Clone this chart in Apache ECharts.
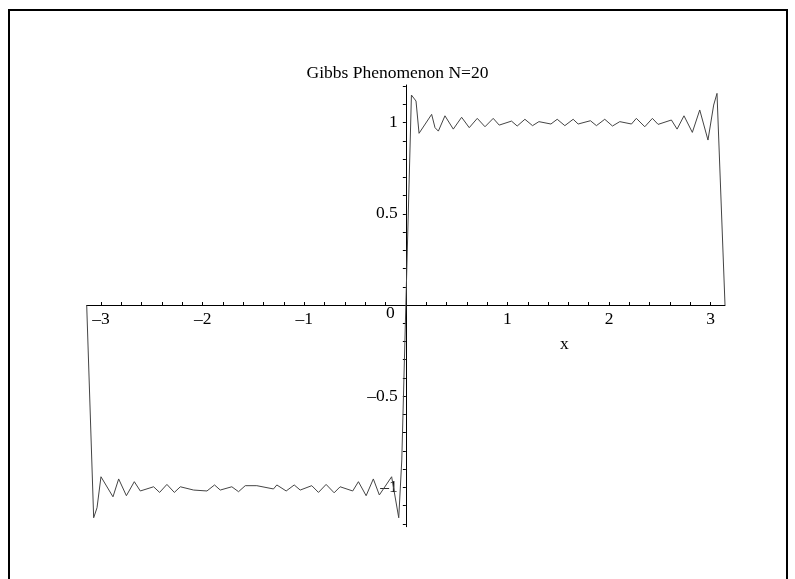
<!DOCTYPE html>
<html>
<head>
<meta charset="utf-8">
<script src="https://cdn.jsdelivr.net/npm/echarts@6/dist/echarts.min.js"></script>
<style>html,body{margin:0;padding:0;background:#fff}#c{width:795px;height:579px}</style>
</head>
<body>
<div id="c"></div>
<script>
var titleText = 'Gibbs Phenomenon N=20';
var xName = 'x';
var xValues = [
 -3.1416, -3.073, -3.040, -3.001, -2.883, -2.827, -2.751, -2.673, -2.614, -2.483,
 -2.424, -2.352, -2.279, -2.220, -2.089, -1.958, -1.883, -1.827, -1.713, -1.647,
 -1.581, -1.467, -1.303, -1.270, -1.178, -1.099, -1.040, -0.926, -0.860, -0.785,
 -0.706, -0.647, -0.523, -0.467, -0.391, -0.320, -0.261, -0.140, -0.070, -0.040,
 0, 0.055, 0.100, 0.130, 0.254, 0.287, 0.320, 0.385, 0.467, 0.549,
 0.624, 0.703, 0.779, 0.860, 0.919, 1.040, 1.096, 1.172, 1.247, 1.310,
 1.428, 1.490, 1.565, 1.647, 1.696, 1.817, 1.876, 1.958, 2.034, 2.106,
 2.221, 2.269, 2.352, 2.427, 2.483, 2.614, 2.670, 2.738, 2.820, 2.893,
 2.974, 3.030, 3.063, 3.1416
];
var yValues = [
 0, -1.167, -1.112, -0.942, -1.052, -0.954, -1.046, -0.969, -1.020, -0.997,
 -1.028, -0.984, -1.028, -0.997, -1.015, -1.020, -0.987, -1.015, -0.997, -1.024,
 -0.991, -0.991, -1.009, -0.987, -1.020, -0.987, -1.015, -0.991, -1.028, -0.984,
 -1.030, -0.997, -1.020, -0.969, -1.046, -0.954, -1.042, -0.942, -1.167, -0.850,
 0, 1.152, 1.119, 0.942, 1.046, 0.973, 0.954, 1.038, 0.965, 1.030,
 0.973, 1.024, 0.978, 1.024, 0.987, 1.009, 0.982, 1.019, 0.984, 1.006,
 0.993, 1.019, 0.984, 1.019, 0.993, 1.011, 0.984, 1.019, 0.982, 1.006,
 0.993, 1.024, 0.978, 1.024, 0.991, 1.015, 0.965, 1.038, 0.947, 1.070,
 0.905, 1.097, 1.161, 0
];
var xTickValues = [-3,-2.8,-2.6,-2.4,-2.2,-2,-1.8,-1.6,-1.4,-1.2,-1,-0.8,-0.6,-0.4,-0.2,0,
 0.2,0.4,0.6,0.8,1,1.2,1.4,1.6,1.8,2,2.2,2.4,2.6,2.8,3];
var xLabelValues = [-3,-2,-1,1,2,3];
var yTickValues = [-1.2,-1.1,-1,-0.9,-0.8,-0.7,-0.6,-0.5,-0.4,-0.3,-0.2,-0.1,0,
 0.1,0.2,0.3,0.4,0.5,0.6,0.7,0.8,0.9,1,1.1,1.2];
var yLabelValues = [-1,-0.5,0,0.5,1];

var X_MIN = -3.1416, X_MAX = 3.1416, Y_MIN = -1.216, Y_MAX = 1.207;
var G_LEFT = 86.7, G_RIGHT = 70, G_TOP = 85, G_BOTTOM = 52.3;
var W = 795, H = 579;
var gridW = W - G_LEFT - G_RIGHT, gridH = H - G_TOP - G_BOTTOM;
// place axes through the origin (like onZero) including labels
var xAxisOffset = -((0 - Y_MIN) / (Y_MAX - Y_MIN)) * gridH;
var yAxisOffset = -((0 - X_MIN) / (X_MAX - X_MIN)) * gridW;

var data = xValues.map(function(x, i){ return [x, yValues[i]]; });
var FONT = 'Liberation Serif';
function fmt(v){ return v < 0 ? '\u2013' + String(Math.abs(v)) : String(v); }

var chart = echarts.init(document.getElementById('c'), null, {renderer:'canvas'});
chart.setOption({
  animation: false,
  backgroundColor: '#fff',
  title: [
    {text: titleText, left: 'center', top: 64, padding: 0,
     textStyle: {fontFamily: FONT, fontSize: 17.5, fontWeight: 'normal', color: '#000'}},
    {text: xName, left: 560, top: 335, padding: 0,
     textStyle: {fontFamily: FONT, fontSize: 17.5, fontWeight: 'normal', color: '#000'}}
  ],
  graphic: [
    {type: 'rect', shape: {x: 9, y: 10, width: 778, height: 620},
     style: {fill: 'none', stroke: '#000', lineWidth: 2}, silent: true}
  ],
  grid: {left: G_LEFT, right: G_RIGHT, top: G_TOP, bottom: G_BOTTOM, containLabel: false, outerBoundsMode: 'none'},
  xAxis: {
    type: 'value', min: X_MIN, max: X_MAX, position: 'bottom', offset: xAxisOffset,
    axisLine: {onZero: false, lineStyle: {color: '#000', width: 1}},
    axisTick: {show: true, inside: true, length: 3, customValues: xTickValues, lineStyle: {color: '#000'}},
    axisLabel: {customValues: xLabelValues, margin: 5, formatter: fmt,
      fontFamily: FONT, fontSize: 17.5, color: '#000'},
    splitLine: {show: false}
  },
  yAxis: {
    type: 'value', min: Y_MIN, max: Y_MAX, position: 'left', offset: yAxisOffset,
    axisLine: {onZero: false, lineStyle: {color: '#000', width: 1}},
    axisTick: {show: true, inside: false, length: 3, customValues: yTickValues, lineStyle: {color: '#000'}},
    axisLabel: {customValues: yLabelValues, margin: 8,
      formatter: function(v){ return v === 0 ? '{z|0}' : fmt(v); },
      fontFamily: FONT, fontSize: 17.5, color: '#000',
      rich: {z: {fontFamily: FONT, fontSize: 17.5, color: '#000', padding: [16, 3, 0, 0]}}},
    splitLine: {show: false}
  },
  series: [{
    type: 'line', data: data, showSymbol: false, symbol: 'none',
    lineStyle: {color: '#444', width: 1}, silent: true
  }]
});
</script>
</body>
</html>
